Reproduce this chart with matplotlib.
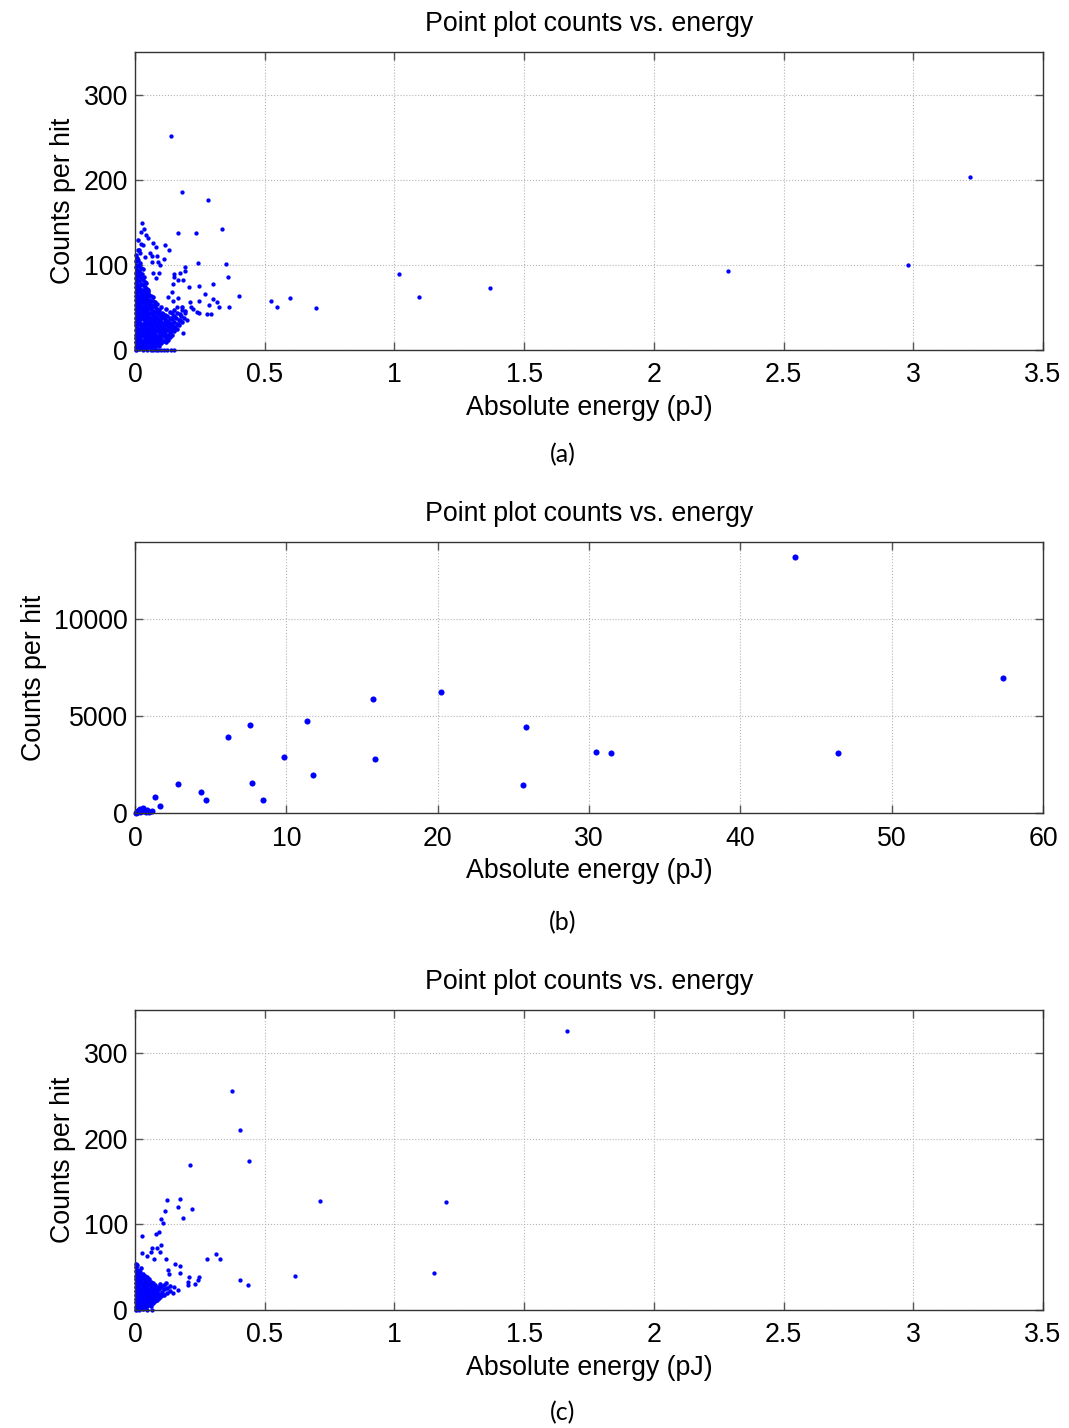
import matplotlib
matplotlib.use("Agg")
import matplotlib.pyplot as plt

# ---- data ----
# (a) dense core near the origin, as (energy pJ, counts)
core_a = [
    (0.002, 0), (0.002, 4), (0.002, 9), (0.002, 14), (0.002, 18), (0.002, 24), (0.002, 29), (0.002, 33),
    (0.002, 38), (0.002, 44), (0.002, 48), (0.002, 53), (0.002, 59), (0.002, 63), (0.002, 68), (0.002, 74),
    (0.002, 79), (0.002, 85), (0.002, 91), (0.002, 97), (0.003, 104), (0.004, 111),
    (0.008, 2), (0.008, 7), (0.009, 12), (0.008, 16), (0.007, 21), (0.008, 26), (0.009, 31), (0.008, 36),
    (0.008, 41), (0.007, 46), (0.008, 50), (0.009, 55), (0.008, 61), (0.008, 66), (0.007, 71), (0.008, 76),
    (0.009, 82), (0.008, 88), (0.008, 94), (0.007, 100), (0.009, 108), (0.010, 118),
    (0.015, 1), (0.015, 5), (0.014, 10), (0.016, 15), (0.015, 20), (0.015, 25), (0.014, 30), (0.016, 34),
    (0.015, 39), (0.015, 44), (0.014, 49), (0.016, 54), (0.015, 59), (0.015, 64), (0.014, 69), (0.016, 75),
    (0.015, 81), (0.014, 87), (0.016, 93), (0.015, 99), (0.013, 106), (0.016, 117), (0.012, 129),
    (0.022, 3), (0.022, 8), (0.021, 13), (0.023, 18), (0.022, 23), (0.022, 28), (0.021, 32), (0.023, 37),
    (0.022, 42), (0.022, 47), (0.021, 52), (0.023, 57), (0.022, 62), (0.022, 67), (0.021, 72), (0.023, 78),
    (0.022, 84), (0.021, 90), (0.023, 96), (0.020, 102),
    (0.030, 1), (0.030, 6), (0.029, 11), (0.031, 16), (0.030, 21), (0.030, 26), (0.029, 31), (0.031, 36),
    (0.030, 40), (0.030, 45), (0.029, 50), (0.031, 55), (0.030, 60), (0.030, 65), (0.029, 70), (0.031, 76),
    (0.030, 82), (0.028, 89), (0.031, 95),
    (0.038, 4), (0.038, 9), (0.037, 14), (0.039, 19), (0.038, 24), (0.038, 29), (0.037, 34), (0.039, 38),
    (0.038, 43), (0.038, 48), (0.037, 53), (0.039, 58), (0.038, 63), (0.037, 68), (0.039, 74), (0.038, 80),
    (0.036, 86),
    (0.046, 2), (0.046, 7), (0.045, 12), (0.047, 17), (0.046, 22), (0.046, 27), (0.045, 32), (0.047, 37),
    (0.046, 41), (0.046, 46), (0.045, 51), (0.047, 56), (0.046, 61), (0.045, 66), (0.047, 72), (0.044, 79),
    (0.054, 5), (0.054, 10), (0.053, 15), (0.055, 20), (0.054, 25), (0.054, 30), (0.053, 35), (0.055, 39),
    (0.054, 44), (0.054, 49), (0.053, 54), (0.055, 59), (0.054, 65), (0.052, 71),
    (0.062, 3), (0.062, 8), (0.061, 13), (0.063, 18), (0.062, 23), (0.062, 28), (0.061, 33), (0.063, 38),
    (0.062, 43), (0.061, 48), (0.063, 53), (0.062, 58), (0.060, 64),
    (0.070, 6), (0.070, 11), (0.069, 16), (0.071, 21), (0.070, 26), (0.070, 31), (0.069, 36), (0.071, 41),
    (0.070, 46), (0.069, 52), (0.071, 57), (0.068, 62),
    (0.078, 4), (0.078, 9), (0.077, 14), (0.079, 19), (0.078, 24), (0.078, 29), (0.077, 34), (0.079, 39),
    (0.078, 45), (0.077, 50), (0.079, 56),
    (0.086, 7), (0.086, 12), (0.085, 17), (0.087, 22), (0.086, 27), (0.086, 32), (0.085, 37), (0.087, 43),
    (0.086, 48), (0.085, 54),
    (0.094, 5), (0.094, 10), (0.093, 15), (0.095, 20), (0.094, 25), (0.094, 30), (0.093, 35), (0.095, 41),
    (0.094, 47),
    (0.102, 8), (0.102, 13), (0.101, 18), (0.103, 23), (0.102, 28), (0.102, 33), (0.101, 38), (0.103, 44),
    (0.102, 51),
    (0.110, 11), (0.110, 16), (0.109, 21), (0.111, 26), (0.110, 31), (0.110, 37), (0.109, 42),
    (0.118, 9), (0.118, 14), (0.117, 19), (0.119, 24), (0.118, 29), (0.118, 35), (0.117, 41), (0.119, 48),
    (0.126, 12), (0.126, 18), (0.125, 23), (0.127, 28), (0.126, 34), (0.125, 40),
    (0.134, 15), (0.134, 21), (0.133, 26), (0.135, 32), (0.134, 38), (0.133, 45),
    (0.142, 18), (0.142, 24), (0.141, 30), (0.143, 36), (0.142, 43),
    (0.150, 22), (0.151, 27), (0.149, 33), (0.150, 40), (0.152, 47),
    (0.160, 25), (0.161, 31), (0.159, 38), (0.162, 44),
    (0.171, 29), (0.169, 35), (0.172, 42),
    (0.181, 33), (0.179, 40), (0.183, 50),
    (0.190, 37), (0.192, 46),
    (0.012, 3), (0.019, 6), (0.026, 11), (0.034, 9), (0.041, 14), (0.050, 19), (0.058, 12), (0.066, 17),
    (0.074, 21), (0.082, 15), (0.090, 24), (0.098, 19), (0.106, 27), (0.114, 23), (0.122, 31), (0.130, 27),
    (0.012, 40), (0.019, 56), (0.026, 65), (0.034, 47), (0.041, 60), (0.050, 68), (0.058, 51), (0.066, 43),
    (0.074, 53), (0.082, 40), (0.090, 46), (0.098, 36), (0.106, 42), (0.114, 34), (0.138, 29), (0.146, 39),
]
# (a) scattered points
spread_a = [
    (0.139, 251), (0.181, 186), (0.281, 176), (0.335, 142), (0.166, 138), (0.235, 137),
    (0.351, 101), (0.243, 102), (0.358, 86), (0.401, 64), (0.524, 58), (0.547, 50),
    (0.598, 61), (0.698, 49), (1.018, 89), (1.095, 62), (1.369, 73), (2.286, 93),
    (2.980, 100), (3.219, 203),
    (0.300, 77), (0.246, 75), (0.270, 66), (0.246, 57), (0.285, 53), (0.300, 60),
    (0.315, 56), (0.325, 51), (0.362, 50), (0.277, 42), (0.293, 42), (0.239, 45),
    (0.246, 43), (0.212, 56), (0.216, 51), (0.223, 48), (0.209, 74), (0.193, 98),
    (0.193, 93), (0.174, 91), (0.185, 82), (0.166, 82), (0.146, 78), (0.150, 89),
    (0.150, 86), (0.185, 20), (0.147, 23),
    (0.027, 149), (0.035, 142), (0.023, 139), (0.042, 135), (0.050, 131), (0.069, 126),
    (0.023, 125), (0.031, 123), (0.081, 121), (0.116, 123), (0.131, 117), (0.019, 114),
    (0.058, 114), (0.066, 110), (0.085, 110), (0.112, 107), (0.039, 109), (0.089, 103),
    (0.066, 103), (0.096, 100), (0.070, 91), (0.093, 91), (0.081, 84),
    (0.141, 68), (0.128, 62), (0.148, 57), (0.167, 61), (0.160, 51), (0.180, 47),
    (0.193, 43), (0.199, 35), (0.173, 35), (0.154, 27), (0.167, 31),
    (0.081, 0), (0.090, 0), (0.100, 0), (0.113, 0), (0.123, 0), (0.139, 0), (0.149, 0),
    (0.030, 0), (0.045, 0), (0.060, 0), (0.070, 0),
]

# (b) all points
points_b = [
    (43.62, 13247), (57.37, 6959), (20.22, 6237), (15.75, 5880), (11.38, 4775),
    (7.62, 4545), (6.17, 3925), (25.84, 4433), (30.47, 3144), (31.46, 3093),
    (46.46, 3093), (9.86, 2880), (15.88, 2784), (11.75, 1940), (2.85, 1490),
    (7.75, 1540), (25.64, 1443), (4.36, 1090), (4.70, 660), (8.47, 660),
    (1.31, 815), (1.65, 370), (1.14, 88),
    (0.05, 20), (0.10, 60), (0.15, 30), (0.20, 100), (0.25, 150), (0.30, 50),
    (0.35, 200), (0.40, 120), (0.50, 80), (0.55, 250), (0.60, 180), (0.70, 40),
    (0.80, 140), (0.90, 60),
]

# (c) dense core near the origin
core_c = [
    (0.002, 0), (0.002, 4), (0.002, 9), (0.003, 13), (0.002, 18), (0.002, 22), (0.003, 27), (0.002, 31),
    (0.002, 36), (0.003, 40), (0.002, 45), (0.002, 50), (0.003, 54),
    (0.008, 2), (0.008, 6), (0.009, 11), (0.008, 15), (0.007, 20), (0.008, 24), (0.009, 29), (0.008, 33),
    (0.008, 38), (0.007, 42), (0.009, 47), (0.008, 52),
    (0.015, 1), (0.015, 5), (0.014, 9), (0.016, 14), (0.015, 18), (0.015, 23), (0.014, 27), (0.016, 32),
    (0.015, 36), (0.014, 41), (0.016, 46),
    (0.022, 3), (0.022, 7), (0.021, 12), (0.023, 16), (0.022, 21), (0.022, 25), (0.021, 30), (0.023, 34),
    (0.022, 39), (0.021, 44), (0.023, 49),
    (0.030, 1), (0.030, 5), (0.029, 10), (0.031, 14), (0.030, 19), (0.030, 23), (0.029, 28), (0.031, 32),
    (0.030, 37), (0.029, 42),
    (0.038, 3), (0.038, 8), (0.037, 12), (0.039, 17), (0.038, 21), (0.038, 26), (0.037, 30), (0.039, 35),
    (0.038, 40),
    (0.046, 5), (0.046, 10), (0.045, 14), (0.047, 19), (0.046, 23), (0.046, 28), (0.045, 33), (0.047, 38),
    (0.054, 7), (0.054, 12), (0.053, 16), (0.055, 21), (0.054, 25), (0.054, 30), (0.053, 36),
    (0.062, 5), (0.062, 9), (0.061, 14), (0.063, 18), (0.062, 23), (0.061, 28), (0.063, 33),
    (0.070, 8), (0.070, 12), (0.069, 16), (0.071, 21), (0.070, 26), (0.069, 31),
    (0.078, 10), (0.078, 15), (0.077, 19), (0.079, 24), (0.078, 29),
    (0.086, 12), (0.086, 17), (0.085, 22), (0.087, 27),
    (0.094, 14), (0.094, 19), (0.093, 24), (0.095, 30),
    (0.102, 16), (0.103, 21), (0.101, 27),
    (0.112, 18), (0.111, 24), (0.113, 29),
    (0.122, 20), (0.123, 26), (0.121, 32),
    (0.135, 22), (0.134, 28),
]
# (c) scattered points
spread_c = [
    (1.665, 326), (0.372, 255), (0.403, 210), (0.440, 174), (0.213, 169), (0.715, 127),
    (1.199, 126), (0.125, 128), (0.172, 129), (0.167, 120), (0.220, 118), (0.114, 115),
    (0.184, 107), (0.100, 106), (0.109, 102), (0.094, 91), (0.081, 89), (0.027, 86),
    (0.099, 76), (0.064, 72), (0.084, 72), (0.098, 68), (0.027, 67), (0.045, 63),
    (0.060, 68), (0.072, 60), (0.121, 59), (0.279, 60), (0.312, 65), (0.329, 60),
    (0.154, 54), (0.175, 51), (0.128, 47), (0.175, 43), (0.132, 42), (0.208, 38),
    (0.246, 38), (0.243, 35), (0.204, 33), (0.232, 30), (0.203, 29), (0.150, 27),
    (0.164, 23), (0.146, 20), (0.406, 35), (0.434, 29), (0.617, 40), (1.153, 43),
    (0.045, 0), (0.064, 0), (0.015, 0),
]

xticks_ab = [0, 0.5, 1, 1.5, 2, 2.5, 3, 3.5]
xticklabels_ab = ["0", "0.5", "1", "1.5", "2", "2.5", "3", "3.5"]
yticks_small = [0, 100, 200, 300]
xticks_b = [0, 10, 20, 30, 40, 50, 60]
yticks_b = [0, 5000, 10000]

title = "Point plot counts vs. energy"
xlabel = "Absolute energy (pJ)"
ylabel = "Counts per hit"
captions = ["(a)", "(b)", "(c)"]

plt.rcParams['font.family'] = ['Liberation Sans', 'DejaVu Sans']
plt.rcParams['font.size'] = 19

fig = plt.figure(figsize=(10.69, 14.28), dpi=100)
W, H = 1069, 1428

def make_axes(left, top, right, bottom):
    ax = fig.add_axes([left / W, 1 - bottom / H, (right - left) / W, (bottom - top) / H])
    ax.grid(True, linestyle=':', color='#b5b5b5', linewidth=0.8)
    ax.set_axisbelow(True)
    ax.tick_params(direction='in', length=6, width=1, color='#555555',
                   top=True, right=True, labelsize=19.3)
    ax.tick_params(axis='x', pad=9)
    ax.tick_params(axis='y', pad=5)
    for s in ax.spines.values():
        s.set_color('#333333')
        s.set_linewidth(1.0)
    ax.set_title(title, fontsize=19.3, pad=15)
    ax.set_xlabel(xlabel, fontsize=19.3, labelpad=5)
    ax.set_ylabel(ylabel, fontsize=19.3, labelpad=5.5)
    return ax

def draw(ax, pts, ms):
    xs = [p[0] for p in pts]
    ys = [p[1] for p in pts]
    ax.plot(xs, ys, linestyle='none', marker='o', markersize=ms,
            markerfacecolor='#0000ff', markeredgecolor='none', clip_on=False)

# (a)
ax1 = make_axes(135, 52, 1043, 350)
draw(ax1, core_a, 3.3)
draw(ax1, spread_a, 3.1)
ax1.set_xlim(0, 3.5)
ax1.set_ylim(0, 350)
ax1.set_xticks(xticks_ab)
ax1.set_xticklabels(xticklabels_ab)
ax1.set_yticks(yticks_small)

# (b)
ax2 = make_axes(135, 542, 1043, 813)
draw(ax2, points_b, 4.4)
ax2.set_xlim(0, 60)
ax2.set_ylim(0, 14000)
ax2.set_xticks(xticks_b)
ax2.set_yticks(yticks_b)

# (c)
ax3 = make_axes(135, 1010, 1043, 1310)
draw(ax3, core_c, 3.3)
draw(ax3, spread_c, 3.1)
ax3.set_xlim(0, 3.5)
ax3.set_ylim(0, 350)
ax3.set_xticks(xticks_ab)
ax3.set_xticklabels(xticklabels_ab)
ax3.set_yticks(yticks_small)

for cap, yc in zip(captions, [455, 923, 1413]):
    fig.text(563 / W, 1 - yc / H, cap, ha='center', va='center',
             fontsize=18, family=['Lato', 'DejaVu Sans'])

fig.savefig("out.png", dpi=100)
